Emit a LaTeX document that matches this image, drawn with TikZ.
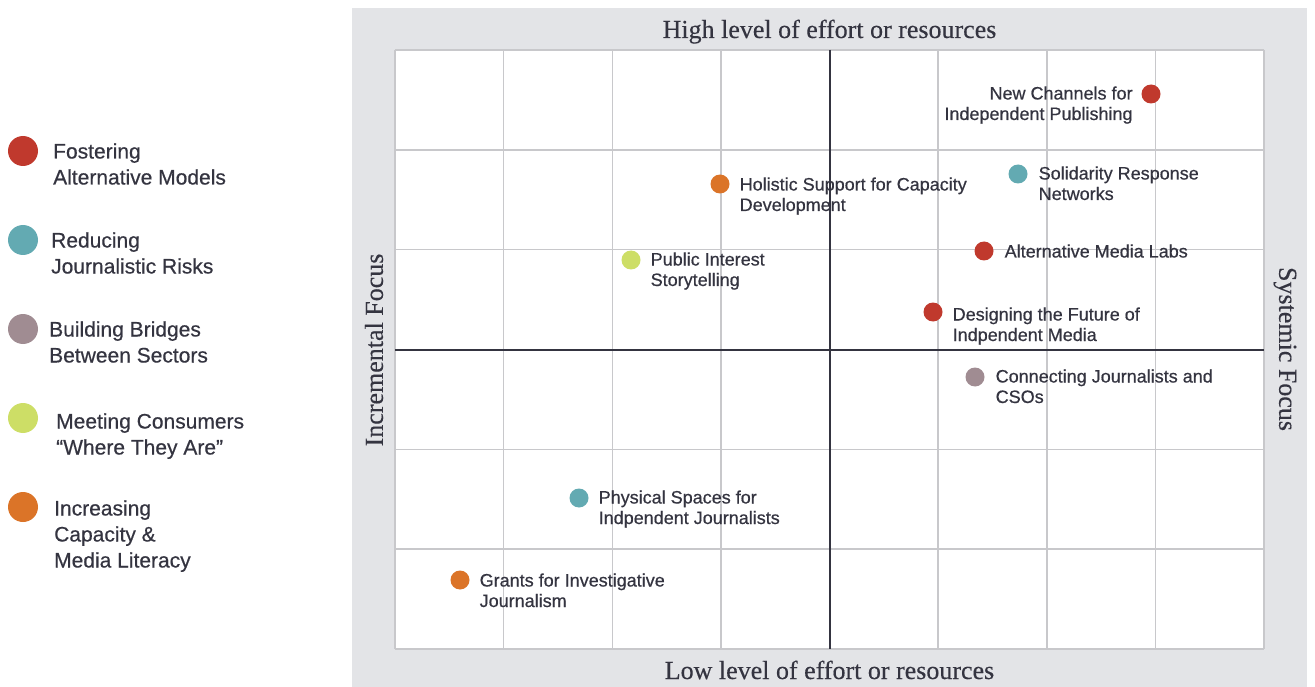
\documentclass[tikz,border=0pt]{standalone}
\usepackage{fontspec}
\setmainfont{Liberation Sans}[FakeBold=0.5]
\newfontfamily\titlefont{Liberation Serif}[FakeBold=0.3]
\usetikzlibrary{positioning}
\definecolor{ink}{RGB}{52,52,64}
\definecolor{panel}{RGB}{227,228,231}
\definecolor{gridc}{RGB}{200,200,203}
\definecolor{cRed}{RGB}{192,57,45}
\definecolor{cTeal}{RGB}{99,170,178}
\definecolor{cMauve}{RGB}{160,140,146}
\definecolor{cLime}{RGB}{205,222,102}
\definecolor{cOrange}{RGB}{219,116,40}
\tikzset{
every node/.style={text=ink,inner sep=0pt},
dotstyle/.style={circle,minimum size=19pt,fill=#1},
legdot/.style={circle,minimum size=30pt,fill=#1},
lbl/.style={font=\fontsize{18}{20.5}\selectfont,align=left},
legtext/.style={font=\fontsize{21}{26}\selectfont,align=left},
axistitle/.style={font=\titlefont\fontsize{26}{28}\selectfont},
gridline/.style={draw=gridc,line width=1.5pt},
axisline/.style={draw=ink,line width=2pt}
}
\begin{document}
\begin{tikzpicture}[x=1pt,y=-1pt]
\useasboundingbox (0,0) rectangle (1315,687);

% grey panel and the white grid
\fill[panel] (352,8) rectangle (1307,687);
\fill[white] (395,50) rectangle (1264,649);
\foreach \i in {0,...,8}
  \draw[gridline] (395+108.625*\i,50) -- (395+108.625*\i,649);
\foreach \j in {0,...,6}
  \draw[gridline] (395,50+99.833*\j) -- (1264,50+99.833*\j);
\draw[axisline] (829.5,50) -- (829.5,649);
\draw[axisline] (395,350) -- (1264,350);

% axis titles
\node[axistitle,anchor=base] (top) at (829.5,38) {High level of effort or resources};
\node[axistitle,anchor=base] (bottom) at (829.5,679) {Low level of effort or resources};
\node[axistitle,rotate=90] (incr) at (374,350) {Incremental Focus};
\node[axistitle,rotate=-90] (syst) at (1285,349) {Systemic Focus};

% legend (text anchor sits on the last line)
\node[legdot=cRed] (g1) at (23,151) {};
\node[legdot=cTeal] (g2) at (23,240) {};
\node[legdot=cMauve] (g3) at (23,329) {};
\node[legdot=cLime] (g4) at (23,418) {};
\node[legdot=cOrange] (g5) at (23,507) {};
\node[legtext,right=15pt of g1,anchor=text,yshift=-33.5pt] (t1) {Fostering\\Alternative Models};
\node[legtext,right=13pt of g2,anchor=text,yshift=-33.5pt] (t2) {Reducing\\Journalistic Risks};
\node[legtext,right=11pt of g3,anchor=text,yshift=-33.5pt] (t3) {Building Bridges\\Between Sectors};
\node[legtext,right=18pt of g4,anchor=text,yshift=-36.5pt] (t4) {Meeting Consumers\\“Where They Are”};
\node[legtext,right=16pt of g5,anchor=text,yshift=-60.5pt] (t5) {Increasing\\Capacity \&\\Media Literacy};

% the points and their labels
\node[dotstyle=cOrange] (d1) at (720,184) {};
\node[dotstyle=cLime] (d2) at (631,260) {};
\node[dotstyle=cTeal] (d3) at (579,498) {};
\node[dotstyle=cOrange] (d4) at (460,580) {};
\node[dotstyle=cTeal] (d5) at (1018,174) {};
\node[dotstyle=cRed] (d6) at (984,251) {};
\node[dotstyle=cRed] (d7) at (933,312) {};
\node[dotstyle=cMauve] (d8) at (975,377) {};
\node[dotstyle=cRed] (d9) at (1151,94) {};

\node[lbl,right=10pt of d1,anchor=text,yshift=-27pt] (l1) {Holistic Support for Capacity\\Development};
\node[lbl,right=10pt of d2,anchor=text,yshift=-26pt] (l2) {Public Interest\\Storytelling};
\node[lbl,right=10pt of d3,anchor=text,yshift=-26pt] (l3) {Physical Spaces for\\Indpendent Journalists};
\node[lbl,right=10pt of d4,anchor=text,yshift=-27pt] (l4) {Grants for Investigative\\Journalism};
\node[lbl,right=11pt of d5,anchor=text,yshift=-26pt] (l5) {Solidarity Response\\Networks};
\node[lbl,right=11pt of d6,anchor=text,yshift=-6.5pt] (l6) {Alternative Media Labs};
\node[lbl,right=10pt of d7,anchor=text,yshift=-29pt] (l7) {Designing the Future of\\Indpendent Media};
\node[lbl,right=11pt of d8,anchor=text,yshift=-26pt] (l8) {Connecting Journalists and\\CSOs};
\node[lbl,align=right,left=8.5pt of d9,anchor=base east,yshift=-26pt] (l9) {New Channels for\\Independent Publishing};

\end{tikzpicture}
\end{document}
